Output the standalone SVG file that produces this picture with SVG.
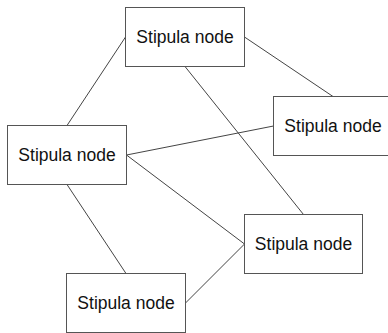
<svg xmlns="http://www.w3.org/2000/svg" width="388" height="333" viewBox="0 0 388 333">
  <style>
    .box { fill: #ffffff; stroke: #555555; stroke-width: 1; }
    .label { font-family: "Liberation Sans", Arial, Helvetica, sans-serif; font-size: 17.5px; fill: #111111; text-anchor: middle; }
    .edge { stroke: #444444; stroke-width: 1; fill: none; }
  </style>
  <rect width="388" height="333" fill="#ffffff"/>
  <g id="connectors">
    <line class="edge" x1="125.5" y1="37" x2="67" y2="125.5"/>
    <line class="edge" x1="244.5" y1="37" x2="333" y2="96.5"/>
    <line class="edge" x1="185" y1="66.5" x2="303.5" y2="214.5"/>
    <line class="edge" x1="126.5" y1="155" x2="273.5" y2="126"/>
    <line class="edge" x1="126.5" y1="155" x2="244.5" y2="244"/>
    <line class="edge" x1="67" y1="184.5" x2="126" y2="273.5"/>
    <line class="edge" x1="185.5" y1="303" x2="244.5" y2="244"/>
  </g>
  <g id="node-top">
    <rect class="box" x="125.5" y="7.5" width="119" height="59"/>
    <text class="label" x="185" y="43">Stipula node</text>
  </g>
  <g id="node-right">
    <rect class="box" x="273.5" y="96.5" width="119" height="59"/>
    <text class="label" x="333" y="132">Stipula node</text>
  </g>
  <g id="node-left">
    <rect class="box" x="7.5" y="125.5" width="119" height="59"/>
    <text class="label" x="67" y="161">Stipula node</text>
  </g>
  <g id="node-midright">
    <rect class="box" x="244.5" y="214.5" width="118" height="59"/>
    <text class="label" x="303.5" y="250">Stipula node</text>
  </g>
  <g id="node-bottom">
    <rect class="box" x="66.5" y="273.5" width="119" height="59"/>
    <text class="label" x="126" y="309">Stipula node</text>
  </g>
</svg>
